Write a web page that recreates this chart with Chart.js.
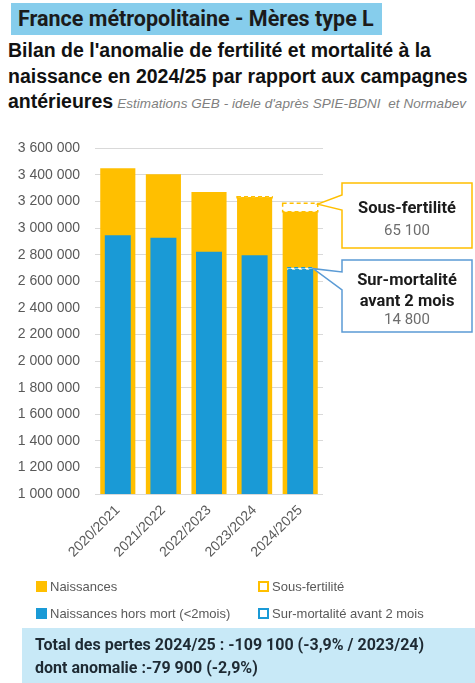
<!DOCTYPE html>
<html lang="fr">
<head>
<meta charset="utf-8">
<script src="https://cdn.jsdelivr.net/npm/chart.js@4.4.1/dist/chart.umd.min.js"></script>
<style>
  html, body { margin: 0; padding: 0; background: #fff; }
  body { width: 475px; height: 683px; position: relative; overflow: hidden; font-family: "Liberation Sans", Arial, sans-serif; }
  #header {
    position: absolute; left: 11px; top: 3px; width: 371px; height: 32px;
    background: #86cdec; color: #1b1b1b; white-space: nowrap;
    font: bold 21.5px Roboto, sans-serif; line-height: 32px; padding-left: 7px; box-sizing: border-box;
  }
  #title {
    position: absolute; left: 8px; top: 38px; width: 480px; white-space: nowrap;
    font: bold 19.5px "Liberation Sans", Arial, sans-serif; line-height: 25.5px; color: #111;
  }
  #title .src { font: italic 13.5px "Liberation Sans", Arial, sans-serif; letter-spacing: 0.05px; color: #7f7f7f; font-weight: normal; margin-left: 4px; }
  #chartBox { position: absolute; left: 0; top: 125px; width: 475px; height: 455px; }
  #legend { position: absolute; left: 0; top: 576px; width: 475px; height: 46px; font: 13px "Liberation Sans", Arial, sans-serif; color: #595959; }
  .item { position: absolute; display: flex; align-items: center; white-space: nowrap; }
  .swatch { display: inline-block; width: 11px; height: 11px; margin-right: 3px; box-sizing: border-box; }
  #footer {
    position: absolute; left: 22px; top: 628px; width: 453px; height: 55px;
    background: #c8e9f7; color: #1e2a33; box-sizing: border-box; padding: 5px 0 0 13px;
    font: bold 16px Roboto, sans-serif; line-height: 23px; white-space: nowrap;
  }
</style>
</head>
<body>
<div id="header">France métropolitaine - Mères type L</div>
<div id="title">Bilan de l'anomalie de fertilité et mortalité à la<br>naissance en 2024/25 par rapport aux campagnes<br>antérieures<span class="src">Estimations GEB - idele d'après SPIE-BDNI&nbsp; et Normabev</span></div>
<div id="chartBox"><canvas id="chart" width="475" height="455"></canvas></div>
<div id="legend"></div>
<div id="footer">Total des pertes 2024/25 : -109 100 (-3,9% / 2023/24)<br>dont anomalie :-79 900 (-2,9%)</div>
<script>
// Campagnes (axe des abscisses)
const campagnes = ["2020/2021", "2021/2022", "2022/2023", "2023/2024", "2024/2025"];

// Séries
const naissances = [3451000, 3406000, 3272000, 3232000, 3123000];
const sousFertilite = [0, 0, 0, 5000, 65100];
const naissancesHorsMort = [2947000, 2927000, 2823000, 2797000, 2688000];
const surMortalite = [0, 0, 0, 0, 14800];

const seriesLabels = [
  "Naissances",
  "Sous-fertilité",
  "Naissances hors mort (<2mois)",
  "Sur-mortalité avant 2 mois",
];

// Axe des ordonnées
const yMin = 1000000;
const yMax = 3600000;
const yStep = 200000;

// Callouts : titre et valeur affichée
const calloutSous = ["Sous-fertilité", "65 100"];
const calloutSur = ["Sur-mortalité", "avant 2 mois", "14 800"];

const ORANGE = "#ffbf00";
const BLUE = "#1a9ad6";
const BOX_BLUE = "#5b9bd5";

function formatNumber(v) {
  return String(v).replace(/\B(?=(\d{3})+(?!\d))/g, " ");
}

// Bar elements have no borderDash, so dashed outlines are stroked after each dataset.
const dashedOutline = {
  id: "dashedOutline",
  afterDatasetDraw(chart, args) {
    const ds = chart.data.datasets[args.index];
    if (!ds.dashColor) return;
    const ctx = chart.ctx;
    ctx.save();
    ctx.beginPath();
    ctx.rect(chart.chartArea.left, chart.chartArea.top - 2, chart.chartArea.width, chart.chartArea.height + 2);
    ctx.clip();
    ctx.setLineDash([4, 3]);
    ctx.lineWidth = 1.5;
    ctx.strokeStyle = ds.dashColor;
    args.meta.data.forEach((bar, i) => {
      if (!ds.data[i]) return;
      const { x, y, base, width } = bar.getProps(["x", "y", "base", "width"], true);
      const top = Math.min(y, base);
      const h = Math.max(Math.abs(base - y), 1);
      ctx.strokeRect(x - width / 2, top, width, h);
    });
    ctx.restore();
  },
};

function drawCallout(ctx, anchor, box, wedge, color, lines) {
  ctx.save();
  ctx.fillStyle = "#fff";
  ctx.strokeStyle = color;
  ctx.lineWidth = 1.5;
  ctx.beginPath();
  ctx.moveTo(box.x, box.y);
  ctx.lineTo(box.x + box.w, box.y);
  ctx.lineTo(box.x + box.w, box.y + box.h);
  ctx.lineTo(box.x, box.y + box.h);
  ctx.lineTo(box.x, box.y + wedge[1]);
  ctx.lineTo(anchor.x, anchor.y);
  ctx.lineTo(box.x, box.y + wedge[0]);
  ctx.closePath();
  ctx.fill();
  ctx.stroke();
  ctx.textAlign = "center";
  ctx.textBaseline = "alphabetic";
  const cx = box.x + box.w / 2;
  lines.forEach((l) => {
    ctx.font = l.font;
    ctx.fillStyle = l.color;
    ctx.fillText(l.text, cx, box.y + l.dy);
  });
  ctx.restore();
}

const callouts = {
  id: "callouts",
  afterDraw(chart) {
    const ctx = chart.ctx;
    const last = campagnes.length - 1;
    const sousBar = chart.getDatasetMeta(1).data[last];
    const surBar = chart.getDatasetMeta(3).data[last];
    const right = chart.chartArea.right;
    const bold = "bold 16.5px Roboto, sans-serif";
    const reg = "15px Roboto, sans-serif";

    drawCallout(
      ctx,
      { x: sousBar.x + sousBar.width / 2, y: sousBar.y + 1 },
      { x: right + 19, y: 58, w: 130, h: 65 },
      [12, 27],
      ORANGE,
      [
        { text: calloutSous[0], font: bold, color: "#1b1b1b", dy: 30 },
        { text: calloutSous[1], font: reg, color: "#6d6d6d", dy: 52 },
      ]
    );
    drawCallout(
      ctx,
      { x: surBar.x + surBar.width / 2, y: surBar.y + 1 },
      { x: right + 19, y: 135, w: 130, h: 72 },
      [12, 30],
      BOX_BLUE,
      [
        { text: calloutSur[0], font: bold, color: "#1b1b1b", dy: 25 },
        { text: calloutSur[1], font: bold, color: "#1b1b1b", dy: 46 },
        { text: calloutSur[2], font: reg, color: "#6d6d6d", dy: 64 },
      ]
    );
  },
};

const ctx = document.getElementById("chart").getContext("2d");

new Chart(ctx, {
  type: "bar",
  data: {
    labels: campagnes,
    datasets: [
      {
        label: seriesLabels[0],
        data: naissances,
        backgroundColor: ORANGE,
        stack: "naissances",
        order: 1,
        barPercentage: 0.77,
      },
      {
        label: seriesLabels[1],
        data: sousFertilite,
        backgroundColor: "#ffffff",
        dashColor: ORANGE,
        stack: "naissances",
        order: 1,
        barPercentage: 0.77,
      },
      {
        label: seriesLabels[2],
        data: naissancesHorsMort,
        backgroundColor: BLUE,
        stack: "horsMort",
        order: 0,
        barPercentage: 0.57,
      },
      {
        label: seriesLabels[3],
        data: surMortalite,
        backgroundColor: "#ffffff",
        dashColor: BLUE,
        stack: "horsMort",
        order: 0,
        barPercentage: 0.57,
      },
    ],
  },
  options: {
    responsive: false,
    animation: false,
    events: [],
    datasets: {
      bar: { grouped: false, categoryPercentage: 1.0 },
    },
    layout: { padding: { left: 0, right: 152, top: 20, bottom: 0 } },
    plugins: {
      legend: { display: false },
      tooltip: { enabled: false },
    },
    scales: {
      x: {
        grid: { display: false, drawTicks: false },
        border: { display: false },
        ticks: {
          color: "#595959",
          font: { family: "'Liberation Sans', Arial, sans-serif", size: 14 },
          minRotation: 45,
          maxRotation: 45,
          padding: 8,
        },
        afterFit(scale) {
          scale.height = 86;
        },
      },
      y: {
        stacked: true,
        min: yMin,
        max: yMax,
        grid: { color: "#d9d9d9", lineWidth: 1, drawTicks: false },
        border: { display: false },
        ticks: {
          stepSize: yStep,
          color: "#595959",
          font: { family: "'Liberation Sans', Arial, sans-serif", size: 14 },
          padding: 15,
          callback: (v) => formatNumber(v),
        },
        afterFit(scale) {
          scale.width = 95;
        },
      },
    },
  },
  plugins: [dashedOutline, callouts],
});

// Légende HTML en deux colonnes comme l'original
const legendPos = [
  { left: 36, top: 3 },
  { left: 258, top: 3 },
  { left: 36, top: 30 },
  { left: 258, top: 30 },
];
const legendStyle = [
  `background:${ORANGE}`,
  `border:2px dashed ${ORANGE};background:#fff`,
  `background:${BLUE}`,
  `border:2px dashed ${BLUE};background:#fff`,
];
const legend = document.getElementById("legend");
seriesLabels.forEach((label, i) => {
  const item = document.createElement("div");
  item.className = "item";
  item.style.left = legendPos[i].left + "px";
  item.style.top = legendPos[i].top + "px";
  const sw = document.createElement("span");
  sw.className = "swatch";
  sw.style.cssText = legendStyle[i];
  const txt = document.createElement("span");
  txt.textContent = label;
  item.appendChild(sw);
  item.appendChild(txt);
  legend.appendChild(item);
});
</script>
</body>
</html>
